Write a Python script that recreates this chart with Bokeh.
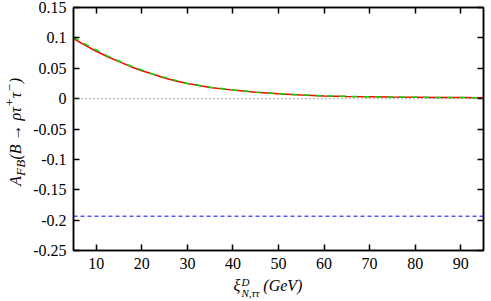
from bokeh.plotting import figure
from bokeh.layouts import row, column
from bokeh.models import (Range1d, LinearAxis, FixedTicker, CustomJSTickFormatter, Span, Div)
from bokeh.embed import file_html
from bokeh.resources import INLINE

# ---- data ----
xi = [5, 7.5, 10, 12.5, 15, 17.5, 20, 22.5, 25, 27.5, 30, 35, 40, 45, 50, 55, 60, 65, 70, 75, 80, 85, 90, 95]
afb_red = [0.099, 0.088, 0.078, 0.069, 0.061, 0.053, 0.046, 0.040, 0.034, 0.029, 0.025, 0.0185,
           0.0140, 0.0105, 0.0080, 0.0058, 0.0045, 0.0036, 0.0030, 0.0025, 0.0022, 0.0019, 0.0017, 0.0015]
afb_green = [0.101, 0.090, 0.080, 0.070, 0.062, 0.054, 0.047, 0.040, 0.035, 0.030, 0.025, 0.0188,
             0.0142, 0.0107, 0.0081, 0.0059, 0.0046, 0.0037, 0.0031, 0.0026, 0.0022, 0.0019, 0.0017, 0.0015]
sm_value = -0.1935
zero_value = 0.0
x_ticks = [10, 20, 30, 40, 50, 60, 70, 80, 90]
y_ticks = [-0.25, -0.2, -0.15, -0.1, -0.05, 0.0, 0.05, 0.1, 0.15]
y_label_html = "A<sub>FB</sub>(B &rarr; &rho;&tau;<sup>+</sup>&tau;<sup>&minus;</sup>)"
x_label_main = "&xi;"
x_label_sup = "D"
x_label_sub = "N,&tau;&tau;"
x_label_unit = "(GeV)"

FONT = "Liberation Serif"
PH = 275

p = figure(width=455, height=PH, output_backend="svg", toolbar_location=None,
           x_range=Range1d(5, 95), y_range=Range1d(-0.25, 0.15),
           min_border_left=43, min_border_right=2, min_border_top=7, min_border_bottom=25)
p.xgrid.visible = False
p.ygrid.visible = False
p.outline_line_color = "black"
p.outline_line_width = 1.5
p.background_fill_color = "white"
p.border_fill_color = "white"

xa = p.xaxis[0]
xa.ticker = FixedTicker(ticks=x_ticks)
ya = p.yaxis[0]
ya.ticker = FixedTicker(ticks=y_ticks)
ya.formatter = CustomJSTickFormatter(code="return (Math.round(tick*100)/100).toString();")
for ax in (xa, ya):
    ax.major_tick_in = 6
    ax.major_tick_out = 0
    ax.minor_tick_line_color = None
    ax.axis_line_color = "black"
    ax.axis_line_width = 1.5
    ax.major_tick_line_width = 1.5
    ax.major_label_text_font = "Liberation Serif"
    ax.major_label_text_font_style = "normal"
    ax.major_label_text_font_size = "16px"
    ax.major_label_text_color = "black"
    ax.major_label_standoff = 7

blank = CustomJSTickFormatter(code="return '';")
top = LinearAxis(ticker=FixedTicker(ticks=x_ticks), formatter=blank)
right = LinearAxis(ticker=FixedTicker(ticks=y_ticks), formatter=blank)
for ax in (top, right):
    ax.major_tick_in = 6
    ax.major_tick_out = 0
    ax.minor_tick_line_color = None
    ax.axis_line_color = "black"
    ax.axis_line_width = 1.5
    ax.major_tick_line_width = 1.5
    ax.major_label_standoff = 0
p.add_layout(top, "above")
p.add_layout(right, "right")

# reference lines
p.add_layout(Span(location=zero_value, dimension="width", line_color="#666666",
                  line_dash="1 3", line_width=1))
p.add_layout(Span(location=sm_value, dimension="width", line_color="#0000ff",
                  line_dash="4 3", line_width=1))

# curves
p.line(xi, afb_red, line_color="#ff0000", line_width=1.5)
p.line(xi, afb_green, line_color="#00dd00", line_width=1.5, line_dash="6 6")

# axis labels as HTML (sub/superscripts)
ylab = Div(width=20, height=PH, text=(
    f"<div style='height:{PH}px;width:20px;display:flex;align-items:center;justify-content:center;"
    f"padding-bottom:22px;box-sizing:border-box;'>"
    f"<span style='writing-mode:vertical-rl;transform:rotate(180deg);white-space:nowrap;"
    f"font-family:\"{FONT}\";font-style:italic;font-size:16px;line-height:1;color:black;'>"
    f"{y_label_html}</span></div>"))

xlab = Div(width=475, height=20, margin=(-8, 0, 0, 0), text=(
    f"<div style='width:475px;height:20px;padding-left:61px;box-sizing:border-box;text-align:center;"
    f"font-family:\"{FONT}\";font-style:italic;font-size:16px;line-height:16px;color:black;white-space:nowrap;'>"
    f"{x_label_main}<span style='display:inline-block;vertical-align:-6px;line-height:11px;font-size:11px;"
    f"text-align:left;margin-left:1px;'>{x_label_sup}<br>{x_label_sub}</span>"
    f"&nbsp;{x_label_unit}</div>"))

layout = column(row(ylab, p), xlab)
# make SVG texts inside the plot use the serif face as well
layout.stylesheets = [":host { font-family: 'Liberation Serif', serif; }"]
open("out.html", "w").write(file_html(layout, INLINE))
